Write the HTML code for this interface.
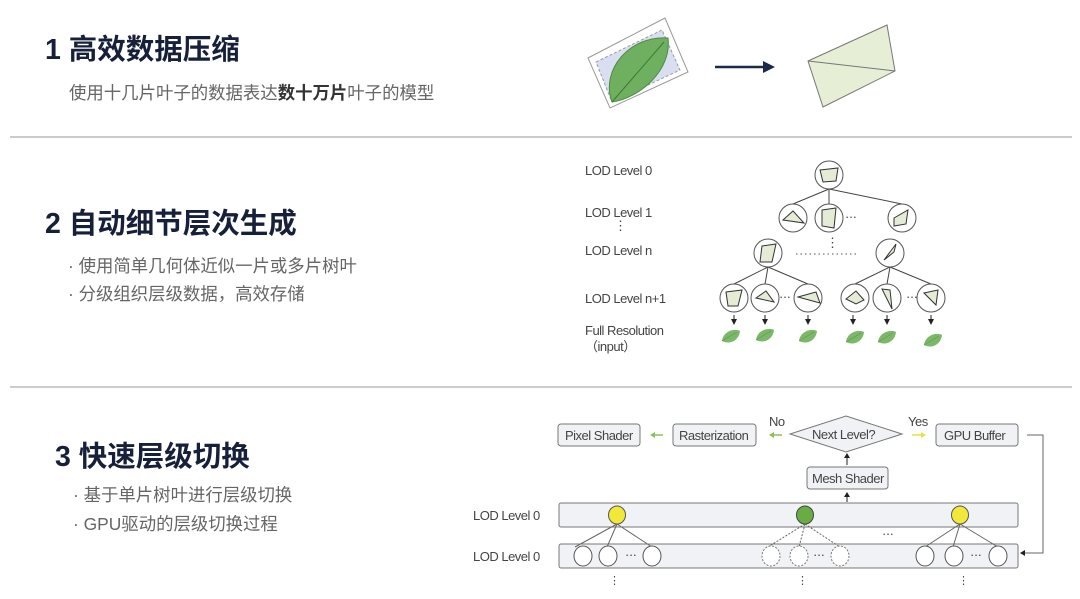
<!DOCTYPE html>
<html><head><meta charset="utf-8"><style>
body{margin:0;background:#fff;width:1080px;height:599px;overflow:hidden}
svg{display:block}
.t{font-family:"Liberation Sans","Noto Sans CJK SC",sans-serif;font-weight:bold;fill:#17203a;font-size:28.5px}
.s{font-family:"Liberation Sans","Noto Sans CJK SC",sans-serif;fill:#666;font-size:17.4px}
.l{font-family:"Liberation Sans",sans-serif;fill:#444;font-size:13px;letter-spacing:-0.5px}
.b{fill:#f1f2f5;stroke:#777;stroke-width:1}
.n{fill:#fff;stroke:#555;stroke-width:1}
.p{fill:#e4ecd6;stroke:#333;stroke-width:1}
.ln{stroke:#444;stroke-width:1;fill:none}
</style></head><body>
<svg width="1080" height="599" viewBox="0 0 1080 599">
<defs>
<marker id="ah" markerWidth="6" markerHeight="6" refX="5" refY="3" orient="auto"><path d="M0,0L6,3L0,6z" fill="#222"/></marker>
<g id="leaf"><path d="M-9,4 C-8,-6 4,-9 9,-6 C8,4 -2,8 -9,4z" fill="#7cb86a"/><path d="M-9,4 L6,-5" stroke="#5a9a4a" stroke-width="0.6"/></g>
</defs>
<!-- section 1 -->
<text class="t" x="45" y="59">1 高效数据压缩</text>
<text class="s" x="69" y="99">使用十几片叶子的数据表达<tspan font-weight="bold" fill="#333">数十万片</tspan>叶子的模型</text>
<g>
<polygon points="588,58 665,18 688,72 610,108" fill="#fff" stroke="#999"/>
<polygon points="596,62 662,30 680,70 612,102" fill="#d9dff0" stroke="#99a" stroke-dasharray="3,2"/>
<path d="M612,102 C600,70 630,35 668,38 C672,70 640,98 612,102z" fill="#6fb060" stroke="#4f8a44"/>
<path d="M612,102 L664,42" stroke="#3d7a35" stroke-width="1"/>
</g>
<line x1="715" y1="67" x2="765" y2="67" stroke="#1b2a4a" stroke-width="2.5"/>
<polygon points="763,61 775,67 763,73" fill="#1b2a4a"/>
<polygon points="808,61 887,25 895,71 823,107" fill="#e6eed6" stroke="#777"/>
<line x1="808" y1="61" x2="895" y2="71" stroke="#777"/>
<line x1="10" y1="137" x2="1072" y2="137" stroke="#bbb" stroke-width="1.5"/>
<!-- section 2 -->
<text class="t" x="45" y="233">2 自动细节层次生成</text>
<text class="s" x="68" y="272">· 使用简单几何体近似一片或多片树叶</text>
<text class="s" x="68" y="300">· 分级组织层级数据，高效存储</text>
<text class="l" x="585" y="175">LOD Level 0</text>
<text class="l" x="585" y="217">LOD Level 1</text>
<text class="l" x="614" y="230" font-size="12">⋮</text>
<text class="l" x="585" y="255">LOD Level n</text>
<text class="l" x="585" y="303">LOD Level n+1</text>
<text class="l" x="585" y="335">Full Resolution</text>
<text class="l" x="585" y="351">（input）</text>
<g class="ln">
<path d="M829,189 L793,204 M829,189 L829,204 M829,189 L902,204"/>
<path d="M768,267 L734,284 M768,267 L765,284 M768,267 L808,284"/>
<path d="M890,267 L855,284 M890,267 L887,284 M890,267 L931,284"/>
</g>
<g>
<circle class="n" cx="829" cy="175" r="14"/><polygon class="p" points="820,170 838,168 836,181 823,182"/>
<circle class="n" cx="793" cy="218" r="14"/><polygon class="p" points="783,220 793,211 804,223"/>
<circle class="n" cx="829" cy="218" r="14"/><polygon class="p" points="822,210 836,208 834,228 822,226"/>
<circle class="n" cx="902" cy="218" r="14"/><polygon class="p" points="894,218 908,210 906,224 894,226"/>
<circle class="n" cx="768" cy="253" r="14"/><polygon class="p" points="762,246 776,244 772,262 760,262"/>
<circle class="n" cx="890" cy="253" r="14"/><polygon class="p" points="884,260 896,244 894,252"/>
<circle class="n" cx="734" cy="298" r="14"/><polygon class="p" points="726,292 742,290 738,306 728,306"/>
<circle class="n" cx="765" cy="298" r="14"/><polygon class="p" points="756,298 766,291 774,302"/>
<circle class="n" cx="808" cy="298" r="14"/><polygon class="p" points="798,297 816,292 820,303"/>
<circle class="n" cx="855" cy="298" r="14"/><polygon class="p" points="846,299 856,291 864,300 856,304"/>
<circle class="n" cx="887" cy="298" r="14"/><polygon class="p" points="882,289 890,290 892,309"/>
<circle class="n" cx="931" cy="298" r="14"/><polygon class="p" points="924,293 938,290 936,305"/>
</g>
<text class="l" x="845" y="221" font-size="9">···</text>
<text class="l" x="779" y="301" font-size="9">···</text>
<text class="l" x="906" y="301" font-size="9">···</text>
<text class="l" x="826" y="247" font-size="10">⋮</text>
<line x1="796" y1="254" x2="858" y2="254" stroke="#555" stroke-dasharray="1.5,3"/>
<g stroke="#222" marker-end="url(#ah)">
<line x1="734" y1="315" x2="734" y2="324"/><line x1="765" y1="315" x2="765" y2="324"/><line x1="808" y1="315" x2="808" y2="324"/>
<line x1="853" y1="315" x2="853" y2="324"/><line x1="887" y1="315" x2="887" y2="324"/><line x1="931" y1="315" x2="931" y2="324"/>
</g>
<use href="#leaf" x="731" y="337"/><use href="#leaf" x="765" y="336"/>
<use href="#leaf" x="808" y="337"/><use href="#leaf" x="855" y="338"/>
<use href="#leaf" x="887" y="338"/><use href="#leaf" x="933" y="341"/>
<line x1="10" y1="387" x2="1072" y2="387" stroke="#bbb" stroke-width="1.5"/>
<!-- section 3 -->
<text class="t" x="55" y="466">3 快速层级切换</text>
<text class="s" x="73" y="501">· 基于单片树叶进行层级切换</text>
<text class="s" x="73" y="530">· GPU驱动的层级切换过程</text>
<g class="l" font-size="13">
<rect class="b" x="558" y="424" width="82" height="22" rx="3"/><text x="565" y="440">Pixel Shader</text>
<rect class="b" x="673" y="424" width="83" height="22" rx="3"/><text x="679" y="440">Rasterization</text>
<polygon points="846,416 902,434 846,452 790,434" class="b"/><text x="812" y="439">Next Level?</text>
<rect class="b" x="936" y="424" width="82" height="22" rx="3"/><text x="944" y="440">GPU Buffer</text>
<rect class="b" x="807" y="467" width="81" height="22" rx="3"/><text x="812" y="483">Mesh Shader</text>
<text x="769" y="426">No</text><text x="908" y="426">Yes</text>
<text x="473" y="520">LOD Level 0</text><text x="473" y="561">LOD Level 0</text>
</g>
<line x1="663" y1="435" x2="652" y2="435" stroke="#8bbf5a" stroke-width="1.5"/><polygon points="650,435 655,432 655,438" fill="#8bbf5a"/>
<line x1="782" y1="435" x2="772" y2="435" stroke="#8bbf5a" stroke-width="1.5"/><polygon points="769,435 774,432 774,438" fill="#8bbf5a"/>
<line x1="912" y1="435" x2="922" y2="435" stroke="#e8e040" stroke-width="1.5"/><polygon points="926,435 921,432 921,438" fill="#e8e040"/>
<path d="M1027,435 H1043 V553 H1024" fill="none" stroke="#666"/><polygon points="1020,553 1025,550 1025,556" fill="#222"/>
<line x1="847" y1="465" x2="847" y2="456" stroke="#222"/><polygon points="847,453 844,458 850,458" fill="#222"/>
<line x1="847" y1="502" x2="847" y2="495" stroke="#222"/><polygon points="847,492 844,497 850,497" fill="#222"/>
<rect class="b" x="559" y="503" width="459" height="24" rx="2"/>
<rect class="b" x="559" y="544" width="459" height="24" rx="2"/>
<ellipse cx="617" cy="515" rx="8.5" ry="9" fill="#f2e83a" stroke="#555"/>
<ellipse cx="805" cy="515" rx="8.5" ry="9" fill="#6aac44" stroke="#444"/>
<ellipse cx="960" cy="515" rx="8.5" ry="9" fill="#f2e83a" stroke="#555"/>
<g stroke="#666" fill="none">
<path d="M617,524 L575,547 M617,524 L607,547 M617,524 L652,547 M960,524 L925,547 M960,524 L953,547 M960,524 L998,547"/>
<path d="M805,524 L768,547 M805,524 L799,547 M805,524 L840,547" stroke-dasharray="2,1.5"/>
</g>
<g fill="#fff" stroke="#555">
<ellipse cx="583" cy="556" rx="9" ry="10"/><ellipse cx="608" cy="556" rx="9" ry="10"/><ellipse cx="652" cy="556" rx="9" ry="10"/>
<ellipse cx="925" cy="556" rx="9" ry="10"/><ellipse cx="954" cy="556" rx="9" ry="10"/><ellipse cx="998" cy="556" rx="9" ry="10"/>
<g stroke-dasharray="2,1.5" stroke="#777"><ellipse cx="771" cy="556" rx="9" ry="10"/><ellipse cx="799" cy="556" rx="9" ry="10"/><ellipse cx="840" cy="556" rx="9" ry="10"/></g>
</g>
<g class="l" font-size="9"><text x="625" y="559">···</text><text x="813" y="559">···</text><text x="970" y="559">···</text><text x="882" y="538">···</text>
<text x="609" y="584" font-size="11">⋮</text><text x="797" y="584" font-size="11">⋮</text><text x="958" y="584" font-size="11">⋮</text></g>
</svg>
</body></html>
